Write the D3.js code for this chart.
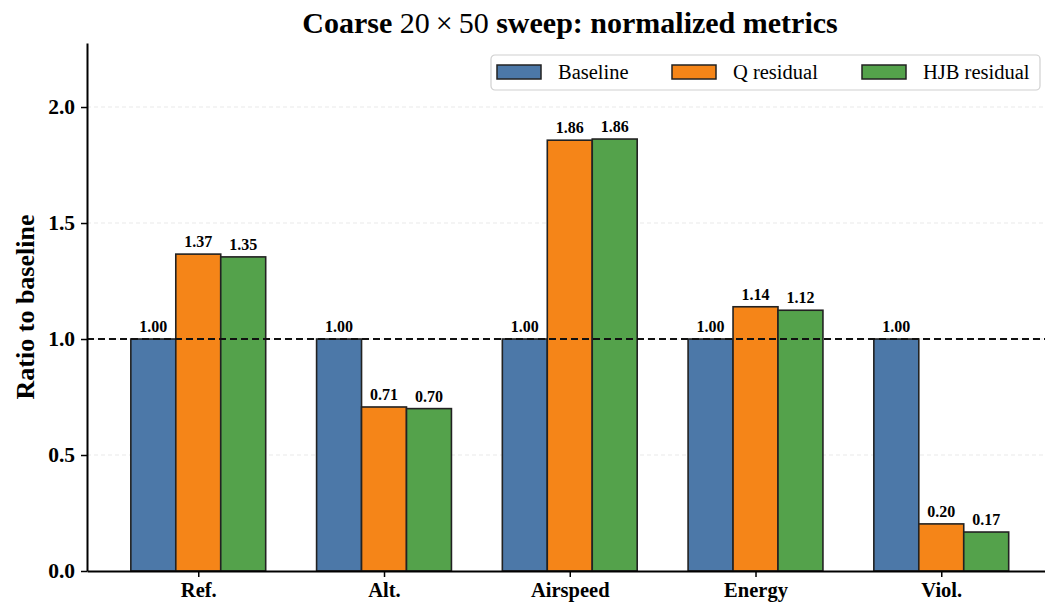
<!DOCTYPE html>
<html>
<head>
<meta charset="utf-8">
<script src="https://cdn.jsdelivr.net/npm/d3@7"></script>
<style>
  body { margin: 0; background: #fff; }
  svg { font-family: "Liberation Serif", "DejaVu Serif", serif; }
</style>
</head>
<body>
<div id="chart"></div>
<script>
// metrics and ratios
const categories = ["Ref.", "Alt.", "Airspeed", "Energy", "Viol."];
const seriesNames = ["Baseline", "Q residual", "HJB residual"];
const baseline = [1.00, 1.00, 1.00, 1.00, 1.00];
const qResidual = [1.366, 0.707, 1.857, 1.139, 0.203];
const hjbResidual = [1.354, 0.700, 1.862, 1.124, 0.168];
const yTicks = [0.0, 0.5, 1.0, 1.5, 2.0];

const colors = ["#4c78a8", "#f58518", "#54a24b"];
const seriesValues = [baseline, qResidual, hjbResidual];

const W = 1045, H = 605;
const margin = {top: 43, left: 87, bottom: 34};
const barW = 0.242;
const serif = "Liberation Serif, serif";

const svg = d3.select("#chart").append("svg")
    .attr("width", W)
    .attr("height", H);

// x as continuous index, like matplotlib's bar positions
const x = d3.scaleLinear()
    .domain([-0.599, 4.599])
    .range([margin.left, margin.left + 5.198 * 185.75]);

const y = d3.scaleLinear()
    .domain([0, 2.276])
    .range([H - margin.bottom, margin.top]);

// light grid
svg.append("g").selectAll("line")
    .data(yTicks.filter(t => t > 0))
    .enter().append("line")
    .attr("x1", margin.left).attr("x2", W)
    .attr("y1", d => y(d)).attr("y2", d => y(d))
    .attr("stroke", "#e3e3e3")
    .attr("stroke-width", 0.8)
    .attr("stroke-dasharray", "4,3");

// bars
const flat = [];
seriesValues.forEach((vals, s) => {
    vals.forEach((v, i) => flat.push({s: s, i: i, v: v}));
});

svg.append("g").selectAll("rect")
    .data(flat)
    .enter().append("rect")
    .attr("x", d => x(d.i + (d.s - 1) * barW - barW / 2))
    .attr("width", d => x(barW) - x(0))
    .attr("y", d => y(d.v))
    .attr("height", d => y(0) - y(d.v))
    .attr("fill", d => colors[d.s])
    .attr("stroke", "#222")
    .attr("stroke-width", 1.6);

// value labels
svg.append("g").selectAll("text")
    .data(flat)
    .enter().append("text")
    .attr("x", d => x(d.i + (d.s - 1) * barW))
    .attr("y", d => y(d.v) - 7)
    .attr("text-anchor", "middle")
    .attr("font-size", 16)
    .attr("font-weight", "bold")
    .text(d => d.v.toFixed(2));

// reference line at 1.0
svg.append("line")
    .attr("x1", margin.left).attr("x2", W)
    .attr("y1", y(1)).attr("y2", y(1))
    .attr("stroke", "#111")
    .attr("stroke-width", 1.8)
    .attr("stroke-dasharray", "7,4");

// y axis
const yAxis = svg.append("g")
    .attr("transform", `translate(${margin.left},0)`)
    .call(d3.axisLeft(y).tickValues(yTicks).tickFormat(d3.format(".1f")).tickSize(6).tickSizeOuter(0));
yAxis.select(".domain").attr("stroke", "#000").attr("stroke-width", 2);
yAxis.selectAll(".tick line").attr("stroke-width", 1.5);
yAxis.selectAll("text")
    .attr("font-size", 21.5)
    .attr("font-weight", "bold")
    .attr("font-family", serif)
    .attr("dx", -3);

// x axis
const xAxis = svg.append("g")
    .attr("transform", `translate(0,${y(0)})`)
    .call(d3.axisBottom(x).tickValues(d3.range(categories.length)).tickFormat(i => categories[i]).tickSize(6).tickSizeOuter(0));
xAxis.select(".domain").attr("stroke", "#000").attr("stroke-width", 2);
xAxis.selectAll(".tick line").attr("stroke-width", 1.5);
xAxis.selectAll("text")
    .attr("font-size", 20.5)
    .attr("font-weight", "bold")
    .attr("font-family", serif)
    .attr("dy", "0.85em");

// y label
svg.append("text")
    .attr("transform", `translate(34,${(y(0) + margin.top) / 2}) rotate(-90)`)
    .attr("text-anchor", "middle")
    .attr("font-size", 26)
    .attr("font-weight", "bold")
    .text("Ratio to baseline");

// title, with the math part set in a plain face
const title = svg.append("text")
    .attr("x", 570)
    .attr("y", 33)
    .attr("text-anchor", "middle")
    .attr("font-size", 30)
    .attr("font-weight", "bold");
title.append("tspan").text("Coarse ");
title.append("tspan").attr("font-weight", "normal").text("20\u2009\u00d7\u200950");
title.append("tspan").text(" sweep: normalized metrics");

// legend
const legend = svg.append("g").attr("transform", "translate(491,55)");
legend.append("rect")
    .attr("width", 549).attr("height", 35)
    .attr("rx", 4)
    .attr("fill", "#fff")
    .attr("stroke", "#d0d0d0")
    .attr("stroke-width", 1.2);
const legendX = [6, 181, 371];
seriesNames.forEach((name, s) => {
    const g = legend.append("g").attr("transform", `translate(${legendX[s]},0)`);
    g.append("rect")
        .attr("x", 0).attr("y", 10)
        .attr("width", 44).attr("height", 14)
        .attr("fill", colors[s])
        .attr("stroke", "#222")
        .attr("stroke-width", 1.5);
    g.append("text")
        .attr("x", 61).attr("y", 24)
        .attr("font-size", 20.5)
        .text(name);
});
</script>
</body>
</html>
